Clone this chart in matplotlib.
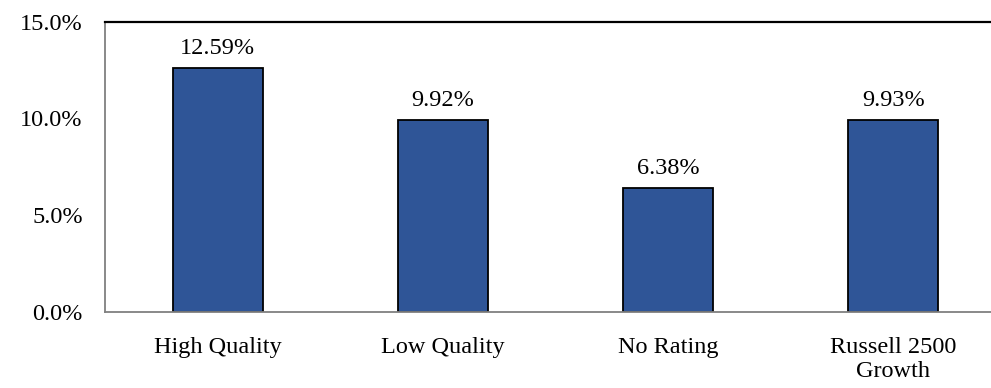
import matplotlib.pyplot as plt

categories = ['High Quality', 'Low Quality', 'No Rating', 'Russell 2500\nGrowth']
values = [12.59, 9.92, 6.38, 9.93]
yticks = [0, 5, 10, 15]

plt.rcParams['font.family'] = 'Liberation Serif'
fs = 17.5

fig = plt.figure(figsize=(9.91, 3.88), dpi=100)
# right edge runs past the image, as in the original crop
ax = fig.add_axes([105/991, 76/388, 901/991, 290.5/388])

x = range(len(categories))
bars = ax.bar(x, values, width=0.40, color='#2F5597', edgecolor='black', linewidth=1.3)

for xi, v in zip(x, values):
    ax.text(xi, v + 0.72, '%.2f%%' % v, ha='center', va='baseline', fontsize=fs)

ax.set_xlim(-0.5, len(categories) - 0.5)
ax.set_ylim(0, 15)
ax.set_yticks(yticks)
ax.set_yticklabels(['%.1f%%' % t for t in yticks], fontsize=fs)
ax.set_xticks(list(x))
ax.set_xticklabels(categories, fontsize=fs, linespacing=1.2)
ax.tick_params(axis='both', length=0)
ax.tick_params(axis='y', pad=16)
ax.tick_params(axis='x', pad=18)

ax.spines['right'].set_visible(False)
ax.spines['top'].set_color('black')
ax.spines['top'].set_linewidth(1.6)
ax.spines['left'].set_color('#808080')
ax.spines['left'].set_linewidth(1.3)
ax.spines['bottom'].set_color('#808080')
ax.spines['bottom'].set_linewidth(1.3)

fig.savefig('out.png', dpi=100)
